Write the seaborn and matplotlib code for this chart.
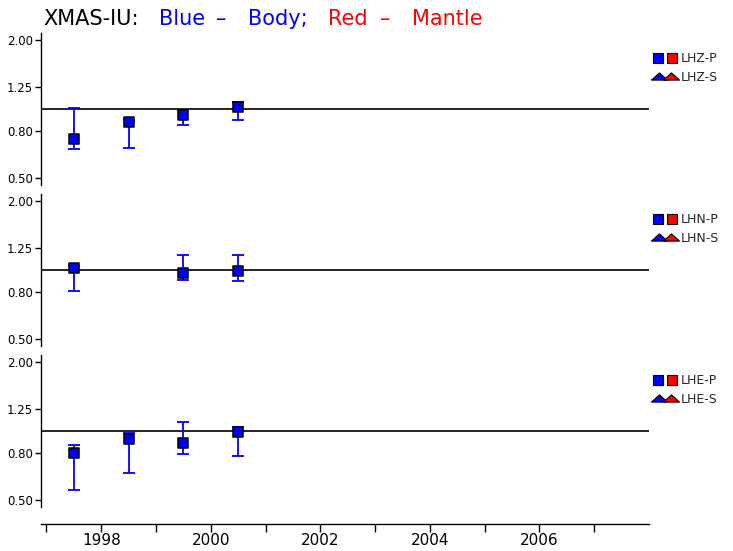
import numpy as np
import seaborn as sns
import matplotlib.pyplot as plt
from matplotlib.lines import Line2D
from matplotlib.legend_handler import HandlerTuple

# observation years (plotted mid-year)
years = [1997.5, 1998.5, 1999.5, 2000.5]

# body-wave amplitude ratios per channel, with lower / upper bounds
lhz_ratio = [0.745, 0.881, 0.938, 1.023]
lhz_low = [0.672, 0.677, 0.849, 0.896]
lhz_high = [1.006, 0.899, 0.993, 1.07]

lhn_ratio = [1.016, np.nan, 0.973, 0.986]
lhn_low = [0.81, np.nan, 0.905, 0.896]
lhn_high = [1.044, np.nan, 1.162, 1.162]

lhe_ratio = [0.805, 0.92, 0.89, 0.99]
lhe_low = [0.554, 0.657, 0.795, 0.781]
lhe_high = [0.869, 0.98, 1.094, 1.044]

channels = ['LHZ', 'LHN', 'LHE']
ratios = [lhz_ratio, lhn_ratio, lhe_ratio]
lows = [lhz_low, lhn_low, lhe_low]
highs = [lhz_high, lhn_high, lhe_high]

ytick_vals = [0.5, 0.8, 1.25, 2.0]
ytick_labels = ['0.50', '0.80', '1.25', '2.00']
xtick_years = list(range(1997, 2008))

sns.set_style('ticks')
plt.rcParams['font.family'] = ['DejaVu Sans']

W, H = 733, 551
fig = plt.figure(figsize=(W / 100, H / 100), dpi=100)

left_px, right_px = 41, 649
panel_tops = [33, 194, 355]
panel_h = 152


def px_rect(top):
    return [left_px / W, 1 - (top + panel_h) / H, (right_px - left_px) / W, panel_h / H]


def draw_panel(ax, ratio, low, high):
    ratio = np.array(ratio)
    err = [ratio - np.array(low), np.array(high) - ratio]
    ax.axhline(1.0, color='black', lw=1.2, zorder=1)
    ax.errorbar(years, ratio, yerr=err, fmt='none', ecolor='blue',
                elinewidth=1.3, capsize=4.3, capthick=1.3, zorder=2)
    sns.scatterplot(x=years, y=ratio, marker='s', s=55, color='blue',
                    edgecolor='black', linewidth=1.1, ax=ax, zorder=3, legend=False)
    ax.set_yscale('log')
    ax.set_ylim(0.468, 2.14)
    ax.set_xlim(1996.9, 2008.0)
    ax.set_yticks(ytick_vals)
    ax.set_yticklabels(ytick_labels)
    ax.yaxis.set_minor_locator(plt.NullLocator())
    ax.tick_params(axis='y', length=4.3, width=1, pad=1.5, labelsize=8.5, colors='black')
    ax.spines['left'].set_linewidth(1)
    ax.spines['left'].set_color('black')
    for s in ['top', 'right', 'bottom']:
        ax.spines[s].set_visible(False)
    ax.set_xlabel('')
    ax.set_ylabel('')
    ax.set_facecolor('white')


def add_legend(ax, chan, top):
    bsq = Line2D([], [], ls='none', marker='s', ms=6.5, mfc='blue', mec='black', mew=0.8)
    rsq = Line2D([], [], ls='none', marker='s', ms=6.5, mfc='red', mec='black', mew=0.8)
    tri = [(-1, -0.45), (1, -0.45), (0, 0.45), (-1, -0.45)]
    btr = Line2D([], [], ls='none', marker=tri, ms=11.5, mfc='blue', mec='black', mew=0.8)
    rtr = Line2D([], [], ls='none', marker=tri, ms=11.5, mfc='red', mec='black', mew=0.8)
    sq = (bsq, rsq)
    tr = (btr, rtr)
    ax.legend([sq, tr], [chan + '-P', chan + '-S'],
              handler_map={sq: HandlerTuple(ndivide=None, pad=0.3),
                           tr: HandlerTuple(ndivide=None, pad=-0.05)},
              loc='upper left', bbox_to_anchor=(653 / W, 1 - (top + 19) / H),
              bbox_transform=fig.transFigure, frameon=False, borderpad=0,
              borderaxespad=0, handlelength=1.9, handletextpad=0.3,
              labelspacing=0.45, numpoints=1, fontsize=9)


axes = []
for i, top in enumerate(panel_tops):
    ax = fig.add_axes(px_rect(top))
    draw_panel(ax, ratios[i], lows[i], highs[i])
    add_legend(ax, channels[i], top)
    axes.append(ax)

for ax in axes[:2]:
    ax.tick_params(axis='x', bottom=False, labelbottom=False)

bottom = axes[2]
bottom.spines['bottom'].set_visible(True)
bottom.spines['bottom'].set_position(('outward', 12))
bottom.spines['bottom'].set_linewidth(1)
bottom.spines['bottom'].set_color('black')
bottom.set_xticks(xtick_years)
bottom.set_xticklabels([str(y) if y % 2 == 0 else '' for y in xtick_years])
bottom.tick_params(axis='x', length=6, width=1, pad=1, labelsize=11, colors='black')

# title in three colours
ty = 1 - 25 / H
fig.text(43 / W, ty, 'XMAS-IU:', color='black', fontsize=15, va='baseline')
fig.text(159 / W, ty, 'Blue', color='blue', fontsize=15, va='baseline')
fig.text(216 / W, ty, '\u2013', color='blue', fontsize=15, va='baseline')
fig.text(248 / W, ty, 'Body;', color='blue', fontsize=15, va='baseline')
fig.text(328 / W, ty, 'Red', color='red', fontsize=15, va='baseline')
fig.text(380 / W, ty, '\u2013', color='red', fontsize=15, va='baseline')
fig.text(412 / W, ty, 'Mantle', color='red', fontsize=15, va='baseline')

fig.savefig('out.png', dpi=100, facecolor='white')
